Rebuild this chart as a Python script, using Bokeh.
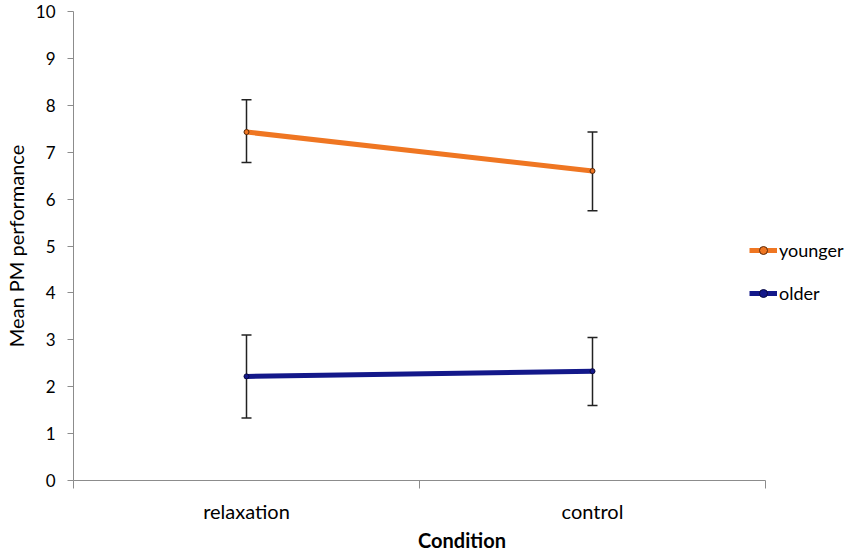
from bokeh.plotting import figure
from bokeh.models import (Range1d, FixedTicker, ColumnDataSource, Whisker, TeeHead,
                          Legend, LegendItem)
from bokeh.embed import file_html
from bokeh.resources import INLINE

categories = ["relaxation", "control"]
cat_pos = [0.5, 1.5]
younger_mean = [7.43, 6.60]
younger_upper = [8.12, 7.43]
younger_lower = [6.78, 5.75]
older_mean = [2.22, 2.33]
older_upper = [3.10, 3.05]
older_lower = [1.33, 1.60]
y_ticks = list(range(0, 11))

FONT = "Lato"
ORANGE = "#EF7622"
NAVY = "#13188A"
AXIS_GREY = "#8c8c8c"

W, H = 850, 554
LEFT, TOP, BOTTOM = 73, 11, 73
AXIS_RIGHT = 765  # where the drawn x axis ends
x_end = 2 * (W - LEFT) / (AXIS_RIGHT - LEFT)

p = figure(width=W, height=H, output_backend="svg", toolbar_location=None,
           x_range=Range1d(0, x_end), y_range=Range1d(0, 10),
           min_border_left=LEFT, min_border_right=0, min_border_top=TOP,
           min_border_bottom=BOTTOM)
p.outline_line_color = None
p.xgrid.visible = False
p.ygrid.visible = False
p.background_fill_color = "white"

# x axis
p.xaxis.bounds = (0, 2)
p.xaxis.ticker = FixedTicker(ticks=cat_pos, minor_ticks=[0, 1, 2])
p.xaxis.major_label_overrides = {v: c for v, c in zip(cat_pos, categories)}
p.xaxis.major_tick_out = 0
p.xaxis.major_tick_in = 0
p.xaxis.minor_tick_out = 8
p.xaxis.minor_tick_in = 0
p.xaxis.minor_tick_line_color = AXIS_GREY
p.xaxis.axis_line_color = AXIS_GREY
p.xaxis.major_label_text_font = FONT
p.xaxis.major_label_text_font_size = "20px"
p.xaxis.major_label_text_color = "#000000"
p.xaxis.major_label_standoff = 10
p.xaxis.axis_label = "Condition"
p.xaxis.axis_label_text_font = FONT
p.xaxis.axis_label_text_font_size = "20px"
p.xaxis.axis_label_text_font_style = "bold"
p.xaxis.axis_label_text_color = "#000000"
p.xaxis.axis_label_standoff = 2

# y axis
p.yaxis.ticker = FixedTicker(ticks=y_ticks, minor_ticks=[])
p.yaxis.major_tick_out = 6
p.yaxis.major_tick_in = 0
p.yaxis.major_tick_line_color = AXIS_GREY
p.yaxis.axis_line_color = AXIS_GREY
p.yaxis.major_label_text_font = FONT
p.yaxis.major_label_text_font_size = "17px"
p.yaxis.major_label_text_color = "#000000"
p.yaxis.major_label_standoff = 12
p.yaxis.axis_label = "Mean PM performance"
p.yaxis.axis_label_text_font = FONT
p.yaxis.axis_label_text_font_size = "20px"
p.yaxis.axis_label_text_font_style = "normal"
p.yaxis.axis_label_text_color = "#000000"
p.yaxis.axis_label_standoff = 5

# error bars
for mean, up, lo in [(younger_mean, younger_upper, younger_lower),
                     (older_mean, older_upper, older_lower)]:
    src = ColumnDataSource(dict(x=cat_pos, upper=up, lower=lo))
    w = Whisker(base="x", upper="upper", lower="lower", source=src, dimension="height",
                line_color="#222222", line_width=1.5,
                upper_head=TeeHead(size=10, line_color="#222222", line_width=1.5),
                lower_head=TeeHead(size=10, line_color="#222222", line_width=1.5))
    p.add_layout(w)

y_line = p.line(cat_pos, younger_mean, line_color=ORANGE, line_width=5)
y_mark = p.scatter(cat_pos, younger_mean, size=5, marker="circle",
                   fill_color=ORANGE, line_color="#5a2a0a", line_width=1)
o_line = p.line(cat_pos, older_mean, line_color=NAVY, line_width=5)
o_mark = p.scatter(cat_pos, older_mean, size=5, marker="circle",
                   fill_color=NAVY, line_color="#0a0a40", line_width=1)

legend = Legend(items=[LegendItem(label="younger", renderers=[y_line, y_mark]),
                       LegendItem(label="older", renderers=[o_line, o_mark])],
                location=(676, 176), orientation="vertical",
                glyph_width=28, glyph_height=20, label_height=20,
                label_standoff=2, spacing=21, padding=0, margin=0,
                border_line_color=None, background_fill_alpha=0,
                label_text_font=FONT, label_text_font_size="18px",
                label_text_color="#000000")
p.add_layout(legend)

open("out.html", "w").write(file_html(p, INLINE))
